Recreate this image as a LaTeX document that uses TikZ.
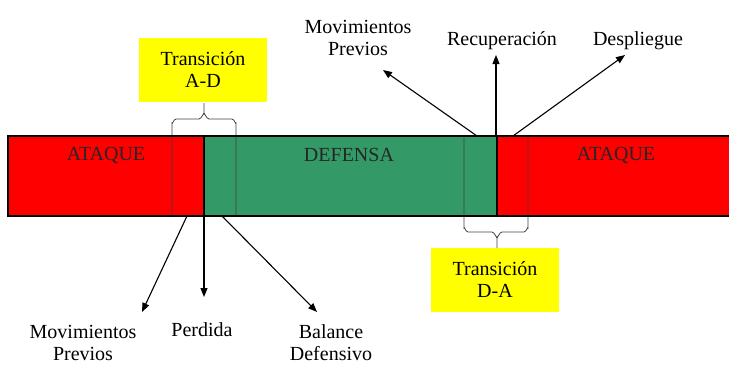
\documentclass[tikz,border=0pt]{standalone}
\usepackage{fontspec}
\setmainfont{Liberation Serif}
\newfontfamily\romana{Liberation Serif}
\usetikzlibrary{arrows.meta}
\definecolor{rojo}{HTML}{FF0000}
\definecolor{verde}{HTML}{339966}
\definecolor{amarillo}{HTML}{FFFF00}

\begin{document}
\begin{tikzpicture}[x=1pt,y=-1pt,
    every node/.style={font=\romana\fontsize{20}{22}\selectfont,align=center,inner sep=0pt},
    flecha/.style={line width=1.1pt,-{Triangle[length=9pt,width=7pt]}},
    llave/.style={line width=0.8pt,black!75},
    caja/.style={fill=amarillo,minimum width=128pt,minimum height=64pt}]
      \useasboundingbox (0,0) rectangle (729,365);

      % la barra
      \fill[rojo] (8,136) rectangle (204,216);
      \fill[verde] (204,136) rectangle (497,216);
      \fill[rojo] (497,136) rectangle (729,216);
      \node[text=black!85] (ataqueA) at (106,155) {ATAQUE};
      \node[text=black!85] (defensa) at (349,155) {DEFENSA};
      \node[text=black!85] (ataqueB) at (616,155) {ATAQUE};

      % llaves de transicion
      \node[caja] (tranAD) at (203,70) {Transición\\A-D};
      \node[caja] (tranDA) at (495,280) {Transición\\D-A};
      \draw[llave] (172,216) -- (172,123) to[out=-90,in=180] (176,119) -- (199,119)
        to[out=0,in=90] (204,114) -- (204,103);
      \draw[llave] (236,216) -- (236,123) to[out=-90,in=0] (232,119) -- (209,119)
        to[out=180,in=90] (204,114);
      \draw[llave] (464,136) -- (464,228) to[out=90,in=180] (468,232) -- (492,232)
        to[out=0,in=-90] (497,237) -- (497,248);
      \draw[llave] (528,136) -- (528,228) to[out=90,in=0] (524,232) -- (502,232)
        to[out=180,in=-90] (497,237);

      % bordes
      \draw[line width=2.5pt] (204,136) -- (204,216);
      \draw[line width=2.5pt] (497,136) -- (497,216);
      \draw[line width=2.5pt] (729,136) -- (8,136) -- (8,216) -- (729,216);

      % textos
      \node (movA) at (358,38) {Movimientos\\Previos};
      \node (recup) at (502,41) {Recuperación};
      \node (despl) at (638,41) {Despliegue};
      \node (movB) at (83,343) {Movimientos\\Previos};
      \node (perdida) at (202,330) {Perdida};
      \node (balance) at (331,343) {Balance\\Defensivo};

      % flechas
      \coordinate (sMovA) at (477,136);
      \coordinate (sRecup) at (496,136);
      \coordinate (sDespl) at (513,136);
      \coordinate (sMovB) at (187,216);
      \coordinate (sPerdida) at (204,216);
      \coordinate (sBalance) at (222,216);
      \coordinate (tMovA) at (383,70);
      \coordinate (tRecup) at (496,55);
      \coordinate (tDespl) at (625,55);
      \coordinate (tMovB) at (142,312);
      \coordinate (tPerdida) at (204,297);
      \coordinate (tBalance) at (317,312);
      \draw[flecha] (sMovA) -- (tMovA);
      \draw[flecha] (sRecup) -- (tRecup);
      \draw[flecha] (sDespl) -- (tDespl);
      \draw[flecha] (sMovB) -- (tMovB);
      \draw[flecha] (sPerdida) -- (tPerdida);
      \draw[flecha] (sBalance) -- (tBalance);
\end{tikzpicture}
\end{document}
